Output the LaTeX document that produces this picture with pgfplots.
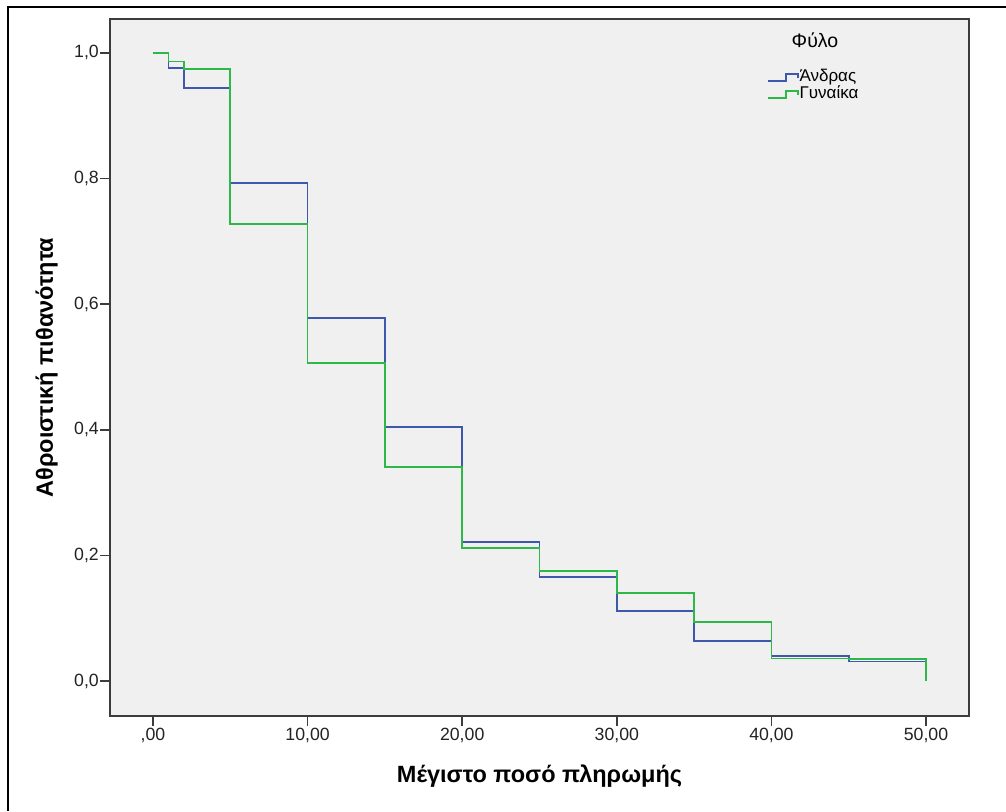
\documentclass[border=0pt]{standalone}
\usepackage{fontspec}
\setmainfont{Liberation Sans}
\usepackage{pgfplots}
\pgfplotsset{compat=1.18}
\definecolor{spssblue}{RGB}{62,88,172}
\definecolor{spssgreen}{RGB}{46,184,72}
\definecolor{plotbg}{RGB}{240,240,240}
\definecolor{framecol}{RGB}{60,60,60}
\definecolor{ticktext}{RGB}{35,35,35}
\begin{document}
\begin{tikzpicture}[x=1pt,y=1pt]
\useasboundingbox (0,0) rectangle (1006,811);
\fill[white] (0,0) rectangle (1006,811);
\draw[black, line width=2.2pt] (8,0) -- (8,804) -- (1006,804);
\begin{axis}[
  at={(110pt,95pt)}, anchor=south west,
  width=859pt, height=697pt, scale only axis,
  xmin=-2.78, xmax=52.78, ymin=-0.0557, ymax=1.054,
  axis background/.style={fill=plotbg},
  axis line style={draw=framecol, line width=1.5pt},
  tick pos=left, tick align=outside,
  major tick length=10pt,
  every tick/.style={draw=framecol, line width=1.5pt},
  xtick={0,10,20,30,40,50},
  xticklabels={{,00},{10,00},{20,00},{30,00},{40,00},{50,00}},
  ytick={0,0.2,0.4,0.6,0.8,1.0},
  yticklabels={{0,0},{0,2},{0,4},{0,6},{0,8},{1,0}},
  ticklabel style={font=\fontsize{17.7}{21}\selectfont, text=ticktext},
  yticklabel style={inner sep=1pt},
  xticklabel style={inner sep=2pt},
  xlabel={Μέγιστο ποσό πληρωμής},
  ylabel={Αθροιστική πιθανότητα},
  label style={font=\fontsize{23.5}{28}\selectfont\bfseries},
  xlabel style={at={(axis description cs:0.5,-0.0961)}, anchor=base},
  ylabel style={at={(axis description cs:-0.0664,0.5)}, anchor=base},
  legend style={at={(rel axis cs:0.765,0.9290)}, anchor=north west,
    draw=none, fill=none, inner sep=0pt, row sep=0pt,
    font=\fontsize{17}{20}\selectfont,
    nodes={inner sep=0.5pt, text height=12pt, text depth=4pt}},
  legend cell align=left,
  legend image code/.code={\draw[#1] (0pt,-3.5pt) -- (18pt,-3.5pt) -- (18pt,3.5pt) -- (30pt,3.5pt) -- (30pt,-0.5pt);},
]
\addplot[const plot, spssblue, line width=1.7pt] coordinates {
(0,1.0) (1,0.9756) (2,0.9437) (5,0.7925) (10,0.5785) (15,0.404) (20,0.221) (25,0.166) (30,0.112) (35,0.0637) (40,0.0398) (45,0.031) (50,0.0)};
\addlegendentry{Άνδρας}
\addplot[const plot, spssgreen, line width=1.7pt] coordinates {
(0,1.0) (1,0.9865) (2,0.9745) (5,0.728) (10,0.506) (15,0.341) (20,0.2113) (25,0.1757) (30,0.1406) (35,0.094) (40,0.036) (45,0.0345) (50,0.0)};
\addlegendentry{Γυναίκα}
\node[font=\fontsize{19.5}{23}\selectfont] at (rel axis cs:0.8207,0.969) {Φύλο};
\end{axis}
\end{tikzpicture}
\end{document}
